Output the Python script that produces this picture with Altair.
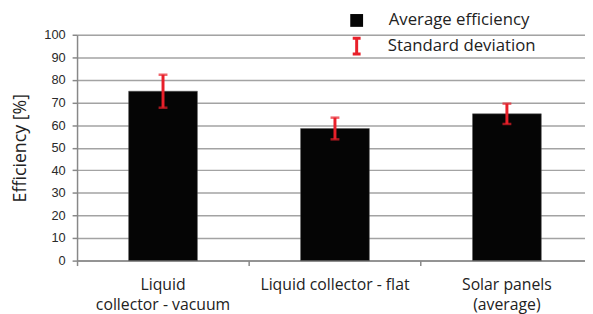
import altair as alt
import pandas as pd

categories = ["Liquid\ncollector - vacuum", "Liquid collector - flat", "Solar panels\n(average)"]
means = [75.0, 58.5, 65.0]
stds = [7.3, 4.8, 4.5]
bar_series = ["Average efficiency"] * 3
err_series = ["Standard deviation"] * 3

df = pd.DataFrame({
    "cat": categories,
    "mean": means,
    "lo": [m - s for m, s in zip(means, stds)],
    "hi": [m + s for m, s in zip(means, stds)],
    "s1": bar_series,
    "s2": err_series,
})

FONT = "Open Sans"
RED = "#e8202a"

x = alt.X(
    "cat:N",
    sort=categories,
    scale=alt.Scale(range=[0, 523], paddingInner=0, paddingOuter=0),
    axis=alt.Axis(
        title=None,
        labelAngle=0,
        labelExpr="split(datum.label, '\\n')",
        labelFont=FONT,
        labelFontSize=16,
        labelColor="#222",
        labelLineHeight=21,
        labelBaseline="top",
        labelPadding=11,
        bandPosition=0,
        tickSize=5,
        tickColor="#888",
        tickWidth=1.5,
        domainColor="#888",
        domainWidth=1.5,
        grid=False,
    ),
)

y_axis = alt.Axis(
    title="Efficiency [%]",
    values=list(range(0, 101, 10)),
    labelOverlap=False,
    titleFont=FONT,
    titleFontSize=18,
    titleFontWeight="normal",
    titleColor="#222",
    titlePadding=15,
    labelFont="Liberation Sans",
    labelFontSize=13,
    labelColor="#2a2a2a",
    labelPadding=7,
    tickSize=5,
    tickColor="#888",
    tickWidth=1.5,
    domainColor="#888",
    domainWidth=1.5,
    gridColor="#a3a3a3",
    gridWidth=1.5,
)
y_scale = alt.Scale(domain=[0, 100])

base = alt.Chart(df)

bars = base.mark_bar(width=alt.RelativeBandSize(0.4), stroke="#555", strokeWidth=0.5).encode(
    x=x,
    y=alt.Y("mean:Q", scale=y_scale, axis=y_axis),
    color=alt.Color(
        "s1:N",
        scale=alt.Scale(domain=["Average efficiency"], range=["#050505"]),
        legend=alt.Legend(
            orient="none", legendX=275, legendY=-23, title=None, padding=0,
            symbolType="square", symbolSize=169, symbolStrokeWidth=0,
            labelFont=FONT, labelFontSize=17, labelColor="#222", labelOffset=24,
        ),
    ),
)

rules = base.mark_rule(strokeWidth=3).encode(
    x=alt.X("cat:N", sort=categories),
    y=alt.Y("lo:Q", scale=y_scale, axis=y_axis),
    y2="hi:Q",
    color=alt.Color(
        "s2:N",
        scale=alt.Scale(domain=["Standard deviation"], range=[RED]),
        legend=alt.Legend(
            orient="none", legendX=274, legendY=2, title=None, padding=0,
            symbolType="M-0.5,-1H0.5M0,-1V1M-0.5,1H0.5", symbolSize=256,
            symbolStrokeWidth=3,
            labelFont=FONT, labelFontSize=17, labelColor="#222", labelOffset=22,
        ),
    ),
)

cap_lo = base.mark_tick(color=RED, size=9, thickness=2.5).encode(
    x=alt.X("cat:N", sort=categories), y=alt.Y("lo:Q", scale=y_scale, axis=y_axis)
)
cap_hi = base.mark_tick(color=RED, size=9, thickness=2.5).encode(
    x=alt.X("cat:N", sort=categories), y=alt.Y("hi:Q", scale=y_scale, axis=y_axis)
)

chart = (
    alt.layer(bars, rules, cap_lo, cap_hi)
    .resolve_scale(color="independent")
    .properties(
        width=515,
        height=229,
        autosize=alt.AutoSizeParams(type="none"),
        padding={"left": 70, "top": 25, "right": 0, "bottom": 52},
    )
    .configure_view(stroke=None)
    .configure(background="white")
)

chart.save("out.html", embed_options={"renderer": "svg", "actions": False})
